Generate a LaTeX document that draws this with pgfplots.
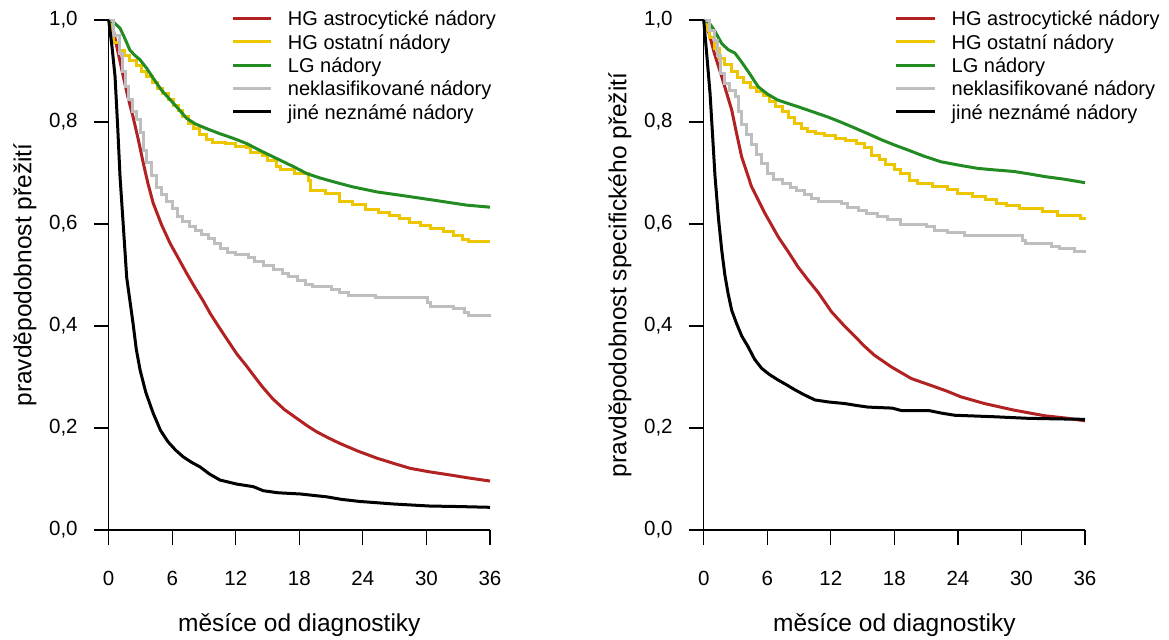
\documentclass[border=0pt]{standalone}
\usepackage{fontspec}
\setmainfont{Liberation Sans}
\usepackage{pgfplots}
\pgfplotsset{compat=1.18}
\definecolor{cred}{HTML}{B22222}
\definecolor{cyel}{HTML}{EEC600}
\definecolor{cgrn}{HTML}{228B22}
\definecolor{cgry}{HTML}{BEBEBE}
\pgfplotsset{km/.style={
  scale only axis, width=190.65pt, height=255pt,
  xmin=0, xmax=36, ymin=0, ymax=1, clip=false,
  axis x line*=bottom, axis y line*=left,
  axis line style={line width=0.6pt, -},
  tick align=outside, major tick length=7.5pt,
  every tick/.style={line width=0.6pt, black},
  xtick={0,6,12,18,24,30,36}, xticklabels={0,6,12,18,24,30,36},
  ytick={0,0.2,0.4,0.6,0.8,1},
  yticklabels={{0,0},{0,2},{0,4},{0,6},{0,8},{1,0}},
  tick label style={font=\fontsize{10.25}{12}\selectfont},
  xticklabel style={yshift=-9.5pt},
  yticklabel style={xshift=-4.5pt},
  label style={font=\fontsize{12.25}{14}\selectfont},
  xlabel={měsíce od diagnostiky},
  xlabel style={at={(axis description cs:0.5,-0.186)}, anchor=center},
  ylabel style={at={(axis description cs:-0.22,0.5)}, anchor=center, rotate=0},
  legend cell align=left,
  legend style={draw=none, fill=none, inner sep=0pt, outer sep=0pt,
    nodes={inner sep=0pt, font=\fontsize{10}{12}\selectfont, text height=8.2pt, text depth=1.0pt},
    row sep=2.45pt, /tikz/every odd column/.append style={column sep=7.65pt}},
  legend image code/.code={\draw[#1, line width=1.5pt] (0pt,0pt) -- (19.2pt,0pt);},
}}
\begin{document}
\begin{tikzpicture}
\path[use as bounding box] (0,0) rectangle (584.5pt,319.5pt);
% ---------------- left panel
\begin{axis}[km, at={(54.35pt,54.5pt)}, anchor=south west,
  ylabel={pravděpodobnost přežití},
  legend style={at={(axis description cs:0.3215,1.0206)}, anchor=north west}]
\addplot[cred, line width=1.5pt, sharp plot] coordinates {
(0,1) (0.43,0.98) (0.9,0.935) (1.38,0.889) (1.8,0.85) (2.3,0.810) (2.8,0.765) (3.27,0.719) (3.7,0.68) (4.2,0.641) (5.0,0.598) (5.8,0.562) (6.6,0.532) (7.37,0.503) (8.1,0.477) (8.9,0.450) (9.6,0.424) (10.5,0.395) (11.3,0.370) (12.1,0.345) (13.0,0.322) (13.65,0.304) (14.5,0.281) (15.5,0.257) (16.6,0.236) (17.75,0.219) (18.7,0.205) (19.6,0.193) (20.7,0.181) (21.8,0.170) (23.5,0.155) (25.3,0.141) (27,0.130) (28.45,0.121) (30.3,0.114) (32.2,0.108) (34,0.102) (36,0.096)};
\addlegendentry{HG astrocytické nádory}
\addplot[cyel, line width=1.5pt, const plot] coordinates {
(0,1) (0.3,0.975) (0.5,0.955) (1.0,0.94) (1.5,0.93) (2.0,0.92) (2.6,0.91) (3.1,0.90) (3.6,0.89) (4.1,0.877) (4.6,0.865) (5.1,0.855) (5.6,0.845) (6.1,0.832) (6.6,0.822) (7.0,0.810) (7.5,0.797) (8.0,0.787) (8.6,0.775) (9.2,0.765) (9.8,0.760) (11.0,0.757) (12.0,0.752) (13.0,0.750) (13.4,0.740) (14.5,0.735) (15.0,0.725) (15.8,0.712) (16.2,0.706) (17.5,0.700) (18.9,0.685) (19.1,0.665) (20.5,0.660) (21.8,0.645) (23.0,0.638) (24.2,0.628) (25.5,0.622) (26.5,0.617) (27.5,0.611) (28.4,0.603) (29.4,0.597) (30.4,0.591) (31.6,0.585) (32.6,0.578) (33.4,0.570) (34.0,0.566) (36,0.566)};
\addlegendentry{HG ostatní nádory}
\addplot[cgrn, line width=1.5pt, sharp plot] coordinates {
(0,1) (0.5,0.995) (1.07,0.984) (1.5,0.965) (2.0,0.941) (2.5,0.930) (2.96,0.922) (3.6,0.905) (4.2,0.886) (5.0,0.862) (6.4,0.830) (7.37,0.807) (8.2,0.796) (9.25,0.787) (10.5,0.777) (11.77,0.768) (13.0,0.758) (14.5,0.742) (16.2,0.725) (17.5,0.712) (18.7,0.699) (20,0.69) (21.2,0.683) (23,0.673) (25.3,0.663) (28,0.655) (30.6,0.647) (33.8,0.637) (36,0.633)};
\addlegendentry{LG nádory}
\addplot[cgry, line width=1.5pt, const plot] coordinates {
(0,1.0) (0.5,0.97) (1.0,0.935) (1.3,0.90) (1.6,0.87) (1.9,0.845) (2.2,0.82) (2.6,0.805) (3.0,0.78) (3.3,0.745) (3.6,0.72) (4.0,0.695) (4.5,0.672) (5.0,0.658) (5.5,0.645) (6.0,0.630) (6.5,0.615) (7.0,0.605) (7.6,0.595) (8.2,0.588) (8.8,0.580) (9.4,0.572) (10.0,0.562) (10.6,0.552) (11.2,0.545) (12.0,0.540) (13.2,0.535) (13.8,0.526) (14.6,0.518) (15.6,0.510) (16.4,0.503) (17.0,0.497) (17.8,0.49) (18.6,0.482) (19.2,0.477) (21.0,0.472) (21.8,0.466) (22.6,0.460) (25.2,0.456) (30.1,0.447) (30.4,0.438) (32.6,0.434) (33.6,0.426) (34.0,0.420) (36,0.418)};
\addlegendentry{neklasifikované nádory}
\addplot[black, line width=1.5pt, sharp plot] coordinates {
(0,1) (0.3,0.95) (0.6,0.889) (0.85,0.79) (1.07,0.693) (1.4,0.59) (1.7,0.495) (2.0,0.45) (2.3,0.405) (2.6,0.355) (2.96,0.314) (3.5,0.27) (4.2,0.229) (4.9,0.195) (5.6,0.173) (6.3,0.157) (7.0,0.144) (7.8,0.133) (8.6,0.124) (9.5,0.110) (10.5,0.098) (12.1,0.090) (13.65,0.085) (14.6,0.077) (16,0.073) (18.1,0.0706) (20.6,0.065) (22,0.06) (23.7,0.056) (26.9,0.051) (30.3,0.047) (33,0.046) (36,0.0445)};
\addlegendentry{jiné neznámé nádory}
\end{axis}
% ---------------- right panel
\begin{axis}[km, at={(351.85pt,54.5pt)}, anchor=south west,
  ylabel={pravděpodobnost specifického přežití},
  legend style={at={(axis description cs:0.5017,1.0206)}, anchor=north west}]
\addplot[cred, line width=1.5pt, sharp plot] coordinates {
(0,1) (0.43,0.98) (1.0,0.935) (1.7,0.889) (2.64,0.824) (3.1,0.778) (3.58,0.732) (4.52,0.673) (5.78,0.621) (7.03,0.575) (8.0,0.545) (8.9,0.516) (9.86,0.490) (10.8,0.466) (11.5,0.445) (12.06,0.428) (13.2,0.402) (14.3,0.379) (15.2,0.36) (16.1,0.343) (17.7,0.320) (19.6,0.297) (21.8,0.281) (23,0.272) (24.3,0.261) (26.5,0.248) (29.3,0.235) (32.2,0.224) (34.4,0.219) (36,0.214)};
\addlegendentry{HG astrocytické nádory}
\addplot[cyel, line width=1.5pt, const plot] coordinates {
(0,1) (0.3,0.98) (0.5,0.965) (1.0,0.945) (1.5,0.925) (2.0,0.912) (2.6,0.900) (3.2,0.888) (3.8,0.878) (4.4,0.868) (5.0,0.860) (5.6,0.852) (6.2,0.840) (6.8,0.830) (7.4,0.820) (8.0,0.808) (8.6,0.797) (9.2,0.787) (9.8,0.782) (10.6,0.777) (11.4,0.773) (12.4,0.768) (13.4,0.763) (14.4,0.757) (15.2,0.750) (15.8,0.735) (16.6,0.727) (17.2,0.717) (18.0,0.707) (18.6,0.699) (19.4,0.686) (20.2,0.680) (21.6,0.674) (23.0,0.667) (24.0,0.660) (25.4,0.654) (26.6,0.648) (27.6,0.641) (28.6,0.636) (29.8,0.630) (32.0,0.624) (33.4,0.617) (35.6,0.610) (36,0.608)};
\addlegendentry{HG ostatní nádory}
\addplot[cgrn, line width=1.5pt, sharp plot] coordinates {
(0,1) (0.5,0.995) (1.0,0.98) (1.7,0.954) (2.3,0.942) (2.95,0.935) (3.5,0.92) (4.2,0.899) (5.15,0.869) (6.0,0.855) (7.0,0.843) (8.0,0.836) (8.9,0.830) (10.3,0.820) (11.7,0.810) (12.8,0.801) (13.95,0.791) (15.4,0.778) (16.8,0.765) (18,0.755) (19.3,0.745) (20.8,0.733) (22.4,0.722) (24.2,0.715) (25.9,0.709) (27.5,0.706) (29.3,0.703) (30.8,0.698) (32.2,0.693) (34,0.688) (36,0.681)};
\addlegendentry{LG nádory}
\addplot[cgry, line width=1.5pt, const plot] coordinates {
(0,1) (0.5,0.98) (1.0,0.96) (1.3,0.93) (1.6,0.895) (2.0,0.875) (2.4,0.862) (3.0,0.850) (3.3,0.82) (3.6,0.795) (4.0,0.775) (4.5,0.755) (5.0,0.737) (5.5,0.718) (6.0,0.700) (6.6,0.688) (7.4,0.680) (8.2,0.672) (8.8,0.665) (9.5,0.658) (10.2,0.650) (10.8,0.644) (13.0,0.640) (13.6,0.633) (14.6,0.626) (15.4,0.620) (16.4,0.614) (17.4,0.608) (18.6,0.600) (21.0,0.595) (21.8,0.588) (23.0,0.583) (24.6,0.577) (30.1,0.568) (30.4,0.562) (32.8,0.556) (33.6,0.551) (35.0,0.546) (36,0.544)};
\addlegendentry{neklasifikované nádory}
\addplot[black, line width=1.5pt, sharp plot] coordinates {
(0,1) (0.3,0.93) (0.6,0.856) (0.85,0.77) (1.07,0.693) (1.4,0.61) (1.7,0.549) (2.0,0.50) (2.3,0.464) (2.64,0.431) (3.1,0.405) (3.6,0.38) (4.2,0.359) (4.8,0.335) (5.47,0.317) (6.2,0.305) (7.03,0.294) (7.8,0.285) (8.6,0.275) (9.5,0.265) (10.5,0.255) (11.8,0.251) (13.3,0.248) (14.5,0.244) (15.5,0.241) (17.8,0.239) (18.7,0.234) (21.3,0.234) (22.5,0.229) (23.7,0.225) (27.5,0.222) (30.6,0.219) (33,0.218) (36,0.217)};
\addlegendentry{jiné neznámé nádory}
\end{axis}
\end{tikzpicture}
\end{document}
